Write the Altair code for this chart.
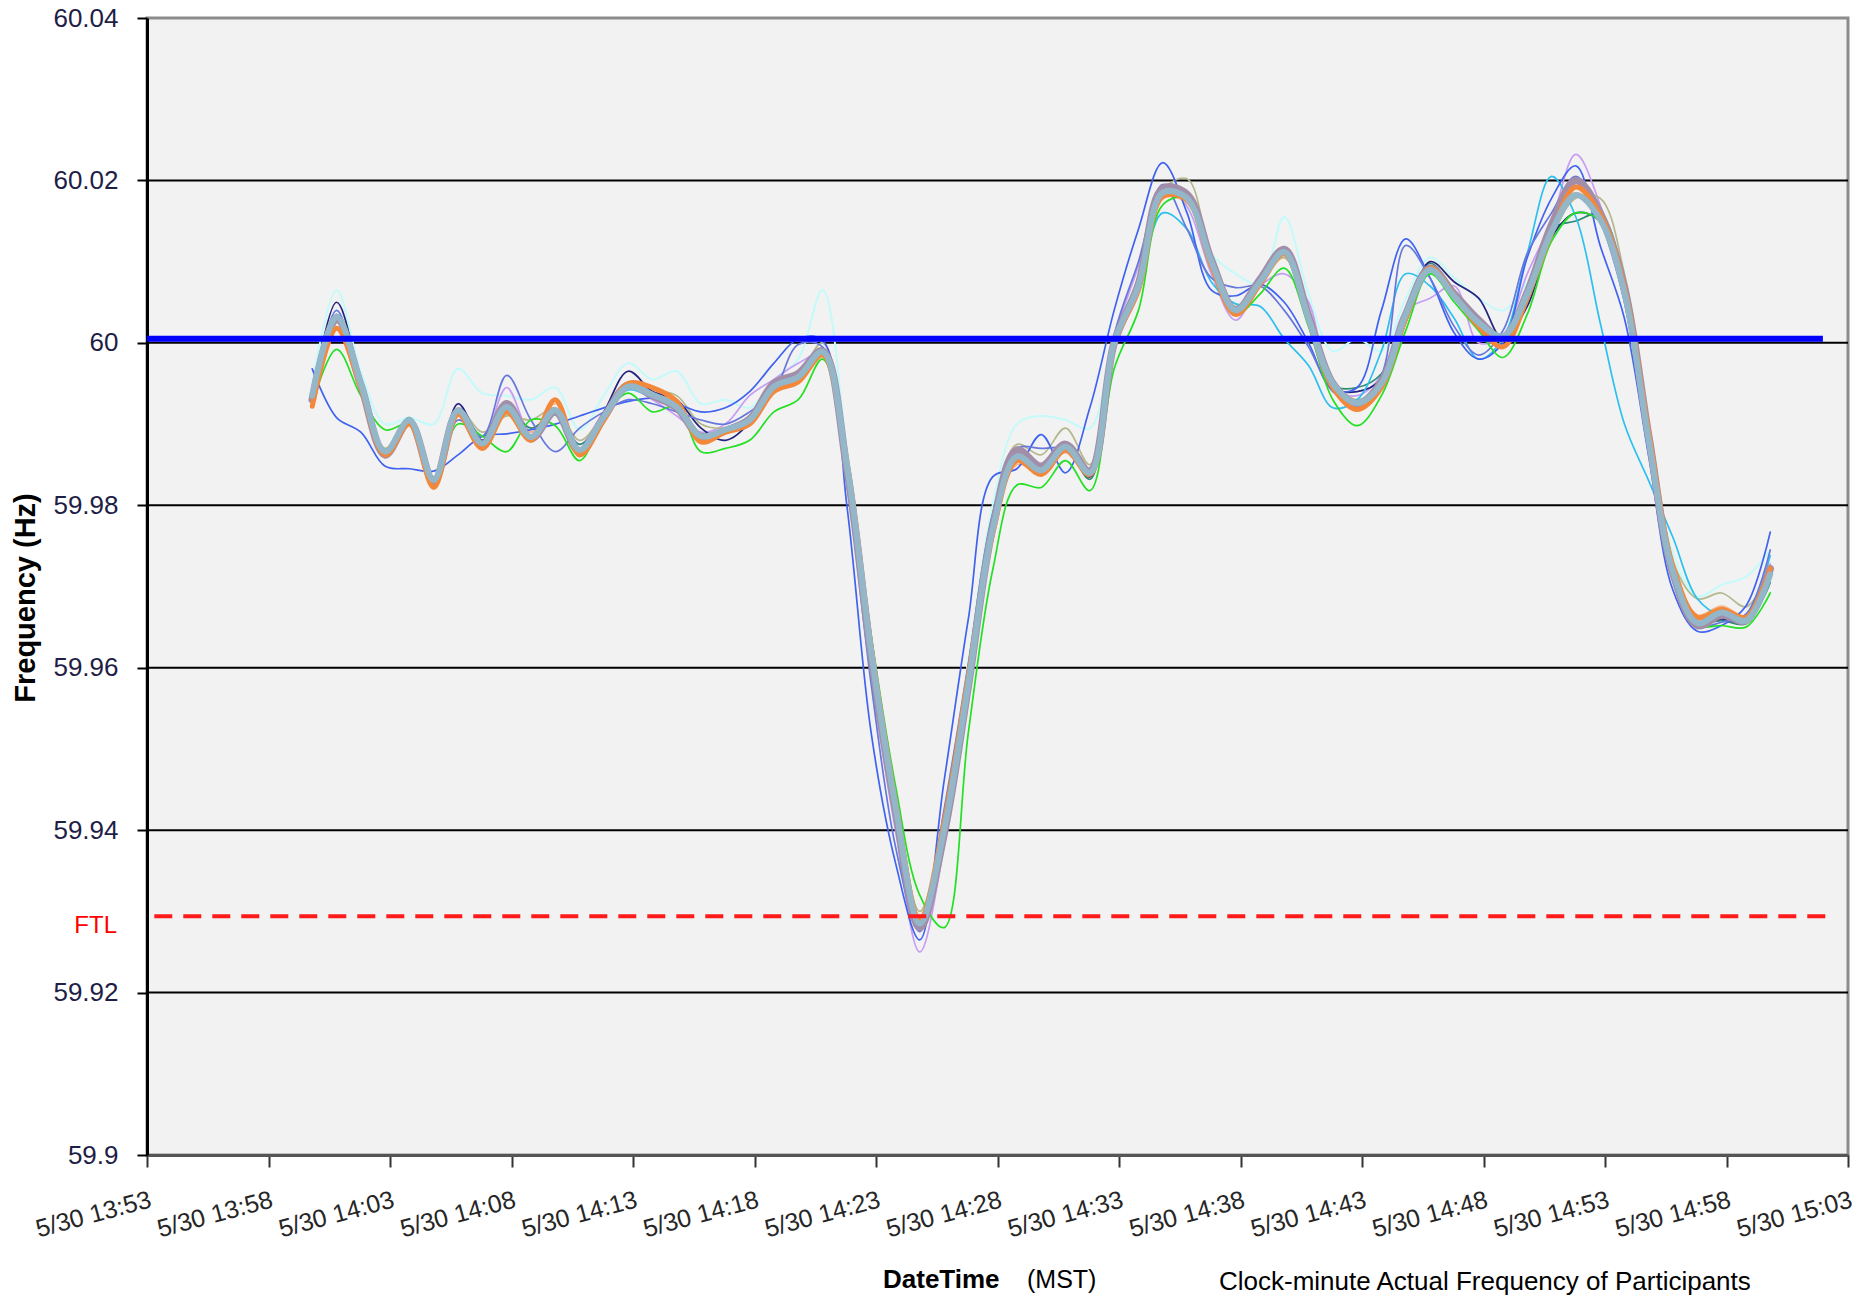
import altair as alt
import pandas as pd

# ---------------- data ----------------
start_minute = "2012-05-30T14:00:00"
n_points = 61  # clock minutes 14:00 .. 15:00

tick_times = ["13:53", "13:58", "14:03", "14:08", "14:13", "14:18", "14:23", "14:28",
              "14:33", "14:38", "14:43", "14:48", "14:53", "14:58", "15:03"]
y_ticks = [59.9, 59.92, 59.94, 59.96, 59.98, 60.0, 60.02, 60.04]
grid_vals = [59.92, 59.94, 59.96, 59.98, 60.0, 60.02]
schedule_value = 60.0005
ftl_value = 59.9294

p_main = [59.9935, 60.0032, 59.9950, 59.9866, 59.9905, 59.9831, 59.9917, 59.9876, 59.9921, 59.9884,
          59.9917, 59.9868, 59.9909, 59.9946, 59.9936, 59.9921, 59.9885, 59.9893, 59.9905, 59.9946,
          59.9958, 59.9989, 59.9850, 59.9620, 59.9430, 59.9285, 59.9400, 59.9580, 59.9770, 59.9860,
          59.9843, 59.9872, 59.9840, 60.0000, 60.0070, 60.0185, 60.0178, 60.0100, 60.0040, 60.0075,
          60.0112, 60.0030, 59.9950, 59.9926, 59.9950, 60.0035, 60.0090, 60.0057, 60.0025, 60.0008,
          60.0060, 60.0137, 60.0182, 60.0152, 60.0062, 59.9880, 59.9718, 59.9655, 59.9668, 59.9658,
          59.9715]
p_mauve = [59.9930, 60.0030, 59.9948, 59.9862, 59.9903, 59.9829, 59.9915, 59.9874, 59.9925, 59.9882,
           59.9915, 59.9866, 59.9908, 59.9948, 59.9935, 59.9920, 59.9884, 59.9892, 59.9906, 59.9950,
           59.9962, 59.9990, 59.9845, 59.9615, 59.9425, 59.9280, 59.9395, 59.9578, 59.9772, 59.9868,
           59.9848, 59.9875, 59.9842, 60.0000, 60.0072, 60.0190, 60.0183, 60.0102, 60.0040, 60.0078,
           60.0115, 60.0033, 59.9950, 59.9925, 59.9952, 60.0035, 60.0092, 60.0060, 60.0028, 60.0005,
           60.0062, 60.0145, 60.0200, 60.0160, 60.0068, 59.9885, 59.9716, 59.9652, 59.9665, 59.9658,
           59.9722]
p_orange = [59.9922, 60.0018, 59.9945, 59.9862, 59.9900, 59.9822, 59.9912, 59.9870, 59.9915, 59.9880,
            59.9930, 59.9862, 59.9905, 59.9950, 59.9945, 59.9928, 59.9878, 59.9890, 59.9900, 59.9940,
            59.9952, 59.9985, 59.9852, 59.9625, 59.9435, 59.9290, 59.9410, 59.9590, 59.9765, 59.9855,
            59.9838, 59.9868, 59.9838, 59.9998, 60.0065, 60.0180, 60.0176, 60.0095, 60.0035, 60.0072,
            60.0110, 60.0030, 59.9945, 59.9918, 59.9945, 60.0030, 60.0092, 60.0058, 60.0020, 59.9995,
            60.0055, 60.0135, 60.0192, 60.0158, 60.0068, 59.9890, 59.9725, 59.9662, 59.9672, 59.9662,
            59.9722]
p_peach = [59.9925, 60.0025, 59.9952, 59.9870, 59.9902, 59.9835, 59.9914, 59.9880, 59.9918, 59.9890,
           59.9925, 59.9870, 59.9908, 59.9945, 59.9940, 59.9925, 59.9880, 59.9888, 59.9898, 59.9942,
           59.9955, 59.9990, 59.9860, 59.9630, 59.9440, 59.9295, 59.9405, 59.9585, 59.9760, 59.9850,
           59.9840, 59.9865, 59.9835, 59.9995, 60.0066, 60.0178, 60.0172, 60.0098, 60.0038, 60.0070,
           60.0105, 60.0028, 59.9948, 59.9922, 59.9948, 60.0032, 60.0088, 60.0055, 60.0022, 60.0002,
           60.0058, 60.0140, 60.0185, 60.0155, 60.0070, 59.9888, 59.9724, 59.9665, 59.9676, 59.9664,
           59.9716]
p_green = [59.9925, 59.9992, 59.9935, 59.9893, 59.9900, 59.9832, 59.9900, 59.9885, 59.9866, 59.9905,
           59.9898, 59.9855, 59.9908, 59.9938, 59.9915, 59.9922, 59.9866, 59.9870, 59.9880, 59.9915,
           59.9930, 59.9980, 59.9855, 59.9640, 59.9455, 59.9320, 59.9280, 59.9520, 59.9720, 59.9825,
           59.9822, 59.9855, 59.9818, 59.9968, 60.0040, 60.0170, 60.0178, 60.0098, 60.0035, 60.0060,
           60.0092, 60.0020, 59.9930, 59.9898, 59.9935, 60.0015, 60.0085, 60.0050, 60.0015, 59.9982,
           60.0035, 60.0125, 60.0160, 60.0150, 60.0068, 59.9885, 59.9718, 59.9652, 59.9652, 59.9650,
           59.9692]
p_blue_a = [59.9968, 59.9908, 59.9890, 59.9848, 59.9845, 59.9842, 59.9862, 59.9885, 59.9888, 59.9893,
            59.9900, 59.9910, 59.9920, 59.9928, 59.9932, 59.9925, 59.9915, 59.9920, 59.9940, 59.9975,
            60.0005, 60.0003, 59.9800, 59.9520, 59.9360, 59.9265, 59.9460, 59.9660, 59.9835, 59.9845,
            59.9887, 59.9840, 59.9920, 60.0040, 60.0140, 60.0222, 60.0160, 60.0065, 60.0058, 60.0072,
            60.0050, 60.0000, 59.9942, 59.9945, 60.0040, 60.0128, 60.0080, 60.0012, 59.9980, 60.0000,
            60.0105, 60.0178, 60.0218, 60.0120, 60.0030, 59.9860, 59.9695, 59.9645, 59.9652, 59.9676,
            59.9767]
p_blue_b = [59.9935, 60.0040, 59.9945, 59.9865, 59.9900, 59.9830, 59.9905, 59.9885, 59.9960, 59.9905,
            59.9866, 59.9895, 59.9915, 59.9930, 59.9925, 59.9915, 59.9905, 59.9900, 59.9915, 59.9940,
            59.9998, 59.9995, 59.9830, 59.9580, 59.9380, 59.9275, 59.9425, 59.9605, 59.9790, 59.9870,
            59.9870, 59.9870, 59.9845, 60.0010, 60.0100, 60.0195, 60.0140, 60.0080, 60.0068, 60.0070,
            60.0040, 59.9995, 59.9940, 59.9925, 59.9960, 60.0120, 60.0080, 60.0020, 59.9985, 60.0015,
            60.0110, 60.0160, 60.0205, 60.0150, 60.0050, 59.9870, 59.9710, 59.9652, 59.9656, 59.9666,
            59.9745]
p_cyan = [59.9940, 60.0030, 59.9948, 59.9868, 59.9902, 59.9834, 59.9912, 59.9878, 59.9915, 59.9886,
          59.9912, 59.9870, 59.9906, 59.9942, 59.9932, 59.9918, 59.9886, 59.9892, 59.9902, 59.9940,
          59.9956, 59.9988, 59.9848, 59.9618, 59.9428, 59.9288, 59.9405, 59.9585, 59.9768, 59.9858,
          59.9840, 59.9870, 59.9842, 60.0000, 60.0068, 60.0160, 60.0140, 60.0075, 60.0048, 60.0045,
          60.0005, 59.9972, 59.9920, 59.9930, 59.9990, 60.0085, 60.0070, 60.0030, 59.9980, 60.0005,
          60.0110, 60.0205, 60.0155, 60.0025, 59.9900, 59.9830, 59.9760, 59.9685, 59.9664, 59.9664,
          59.9738]
p_lightcyan = [59.9950, 60.0065, 59.9965, 59.9900, 59.9908, 59.9900, 59.9968, 59.9938, 59.9935, 59.9930,
               59.9945, 59.9893, 59.9935, 59.9975, 59.9955, 59.9965, 59.9925, 59.9930, 59.9920, 59.9955,
               59.9980, 60.0065, 59.9870, 59.9630, 59.9440, 59.9300, 59.9420, 59.9610, 59.9800, 59.9900,
               59.9910, 59.9905, 59.9895, 60.0010, 60.0080, 60.0185, 60.0172, 60.0110, 60.0085, 60.0073,
               60.0155, 60.0060, 59.9990, 60.0005, 59.9990, 60.0055, 60.0105, 60.0080, 60.0055, 60.0040,
               60.0075, 60.0140, 60.0190, 60.0165, 60.0085, 59.9900, 59.9740, 59.9688, 59.9702, 59.9712,
               59.9745]
p_lavender = [59.9930, 60.0025, 59.9948, 59.9860, 59.9900, 59.9835, 59.9925, 59.9880, 59.9945, 59.9890,
              59.9920, 59.9875, 59.9915, 59.9945, 59.9930, 59.9910, 59.9890, 59.9900, 59.9935, 59.9955,
              59.9975, 59.9985, 59.9830, 59.9590, 59.9400, 59.9250, 59.9380, 59.9575, 59.9775, 59.9860,
              59.9850, 59.9865, 59.9840, 60.0005, 60.0095, 60.0195, 60.0168, 60.0085, 60.0028, 60.0070,
              60.0085, 60.0050, 59.9945, 59.9935, 59.9960, 60.0040, 60.0055, 60.0070, 60.0000, 60.0010,
              60.0085, 60.0150, 60.0232, 60.0170, 60.0065, 59.9880, 59.9714, 59.9660, 59.9668, 59.9660,
              59.9728]
p_navy = [59.9932, 60.0050, 59.9955, 59.9868, 59.9903, 59.9832, 59.9925, 59.9880, 59.9918, 59.9886,
          59.9915, 59.9870, 59.9915, 59.9965, 59.9940, 59.9930, 59.9895, 59.9880, 59.9902, 59.9948,
          59.9960, 59.9990, 59.9850, 59.9622, 59.9432, 59.9287, 59.9400, 59.9578, 59.9770, 59.9862,
          59.9845, 59.9872, 59.9835, 59.9998, 60.0068, 60.0185, 60.0180, 60.0100, 60.0040, 60.0078,
          60.0115, 60.0035, 59.9945, 59.9940, 59.9955, 60.0025, 60.0100, 60.0075, 60.0055, 60.0005,
          60.0045, 60.0130, 60.0160, 60.0150, 60.0070, 59.9890, 59.9720, 59.9655, 59.9660, 59.9656,
          59.9712]
p_olive = [59.9930, 60.0028, 59.9948, 59.9870, 59.9905, 59.9835, 59.9920, 59.9890, 59.9910, 59.9905,
           59.9920, 59.9880, 59.9912, 59.9950, 59.9942, 59.9935, 59.9900, 59.9895, 59.9905, 59.9945,
           59.9960, 60.0000, 59.9860, 59.9630, 59.9440, 59.9300, 59.9410, 59.9585, 59.9785, 59.9875,
           59.9862, 59.9895, 59.9850, 60.0002, 60.0070, 60.0188, 60.0202, 60.0105, 60.0045, 60.0078,
           60.0105, 60.0032, 59.9955, 59.9930, 59.9952, 60.0032, 60.0088, 60.0058, 60.0028, 60.0002,
           60.0060, 60.0130, 60.0178, 60.0178, 60.0085, 59.9900, 59.9730, 59.9685, 59.9692, 59.9675,
           59.9720]
p_teal = [59.9928, 60.0035, 59.9950, 59.9868, 59.9908, 59.9832, 59.9918, 59.9885, 59.9918, 59.9895,
          59.9912, 59.9875, 59.9910, 59.9948, 59.9938, 59.9922, 59.9888, 59.9895, 59.9908, 59.9945,
          59.9958, 59.9990, 59.9852, 59.9625, 59.9435, 59.9290, 59.9395, 59.9570, 59.9765, 59.9858,
          59.9840, 59.9870, 59.9832, 59.9995, 60.0065, 60.0180, 60.0176, 60.0100, 60.0040, 60.0075,
          60.0108, 60.0030, 59.9948, 59.9945, 59.9962, 60.0035, 60.0098, 60.0062, 60.0020, 59.9995,
          60.0050, 60.0140, 60.0150, 60.0158, 60.0075, 59.9885, 59.9718, 59.9656, 59.9658, 59.9654,
          59.9705]

# drawing order (bottom -> top): (values, colour, width)
series = [
    (p_lightcyan, "#c4fafa", 2.0),
    (p_lavender, "#c79cf3", 1.7),
    (p_peach, "#f6b488", 1.7),
    (p_olive, "#b5b88c", 1.7),
    (p_teal, "#2b8a73", 1.7),
    (p_navy, "#23237e", 1.7),
    (p_cyan, "#2cc0f0", 1.7),
    (p_blue_a, "#3f63f0", 1.7),
    (p_blue_b, "#6677dd", 1.7),
    (p_green, "#22e022", 1.7),
    (p_mauve, "#a38ea9", 7.5),
    (p_orange, "#f4883a", 5.0),
    (p_main, "#93b7c9", 6.0),
]

# ---------------- geometry ----------------
W, H = 1701, 1137
FONT = "Liberation Sans"

times = pd.date_range(start_minute, periods=n_points, freq="min")


def dt(hhmm, sec=12):
    h, m = hhmm.split(":")
    return alt.DateTime(year=2012, month=5, date=30, hours=int(h), minutes=int(m), seconds=sec)


xscale = alt.Scale(domain=[dt("13:53"), dt("15:03")], nice=False)
yscale = alt.Scale(domain=[59.9, 60.04], nice=False, zero=False)

xaxis = alt.Axis(values=[dt(t) for t in tick_times], format="%-m/%d %H:%M", formatType="time",
                 title=None, grid=False, labelAngle=345, labelAlign="right", labelBaseline="top",
                 labelFont=FONT, labelFontSize=25, labelColor="#262626", labelPadding=20,
                 labelOverlap=False, labelFlush=False, labelBound=False,
                 tickSize=12, tickWidth=2, tickColor="#333333",
                 domainColor="#555555", domainWidth=3)
yaxis = alt.Axis(values=y_ticks, format="~g", title=None, grid=False,
                 labelFont=FONT, labelFontSize=26, labelColor="#1e1e46", labelPadding=19,
                 labelOverlap=False, labelFlush=False,
                 tickSize=10, tickWidth=2, tickColor="#000000",
                 domainColor="#000000", domainWidth=3)

layers = []

grid_df = pd.DataFrame({"v": grid_vals})
layers.append(
    alt.Chart(grid_df).mark_rule(color="#000000", strokeWidth=2).encode(
        y=alt.Y("v:Q", scale=yscale, axis=yaxis), x=alt.value(0), x2=alt.value(W))
)

for vals, col, w in series:
    d = pd.DataFrame({"time": times, "freq": vals})
    layers.append(
        alt.Chart(d).mark_line(interpolate="catmull-rom", color=col, strokeWidth=w,
                               strokeCap="round", strokeJoin="round").encode(
            x=alt.X("time:T", scale=xscale, axis=xaxis),
            y=alt.Y("freq:Q", scale=yscale, axis=yaxis))
    )

sched_df = pd.DataFrame({"t0": ["2012-05-30T13:53:12"], "t1": ["2012-05-30T15:02:10"],
                         "v": [schedule_value]})
layers.append(
    alt.Chart(sched_df).mark_rule(color="#0000ff", strokeWidth=6).encode(
        x=alt.X("t0:T", scale=xscale, axis=xaxis), x2="t1:T",
        y=alt.Y("v:Q", scale=yscale, axis=yaxis))
)
ftl_df = pd.DataFrame({"t0": ["2012-05-30T13:53:30"], "t1": ["2012-05-30T15:02:30"],
                       "v": [ftl_value]})
layers.append(
    alt.Chart(ftl_df).mark_rule(color="#ff1a1a", strokeWidth=4, strokeDash=[18, 11]).encode(
        x=alt.X("t0:T", scale=xscale, axis=xaxis), x2="t1:T",
        y=alt.Y("v:Q", scale=yscale, axis=yaxis))
)


def label(txt, x, y, size, color="#000000", weight="normal", align="left", angle=0):
    return alt.Chart(pd.DataFrame({"t": [txt]})).mark_text(
        font=FONT, fontSize=size, fontWeight=weight, color=color, align=align,
        baseline="middle", angle=angle).encode(text="t:N", x=alt.value(x), y=alt.value(y))


layers.append(label("FTL", -30, 908, 24, color="#ff0000", align="right"))
layers.append(label("Frequency (Hz)", -121, 580, 29, weight="bold", align="center", angle=270))
layers.append(label("DateTime", 736, 1262, 26, weight="bold"))
layers.append(label("(MST)", 880, 1262, 25))
layers.append(label("Clock-minute Actual Frequency of Participants", 1072, 1264, 26))

chart = alt.layer(*layers).properties(
    width=W, height=H,
    padding={"left": 139, "top": 10, "right": 8, "bottom": 141},
    autosize=alt.AutoSizeParams(type="none"),
    background="#ffffff",
).configure_view(stroke="#8c8c8c", strokeWidth=3, fill="#f2f2f2")

chart.save("out.html", embed_options={"renderer": "svg", "actions": False})
